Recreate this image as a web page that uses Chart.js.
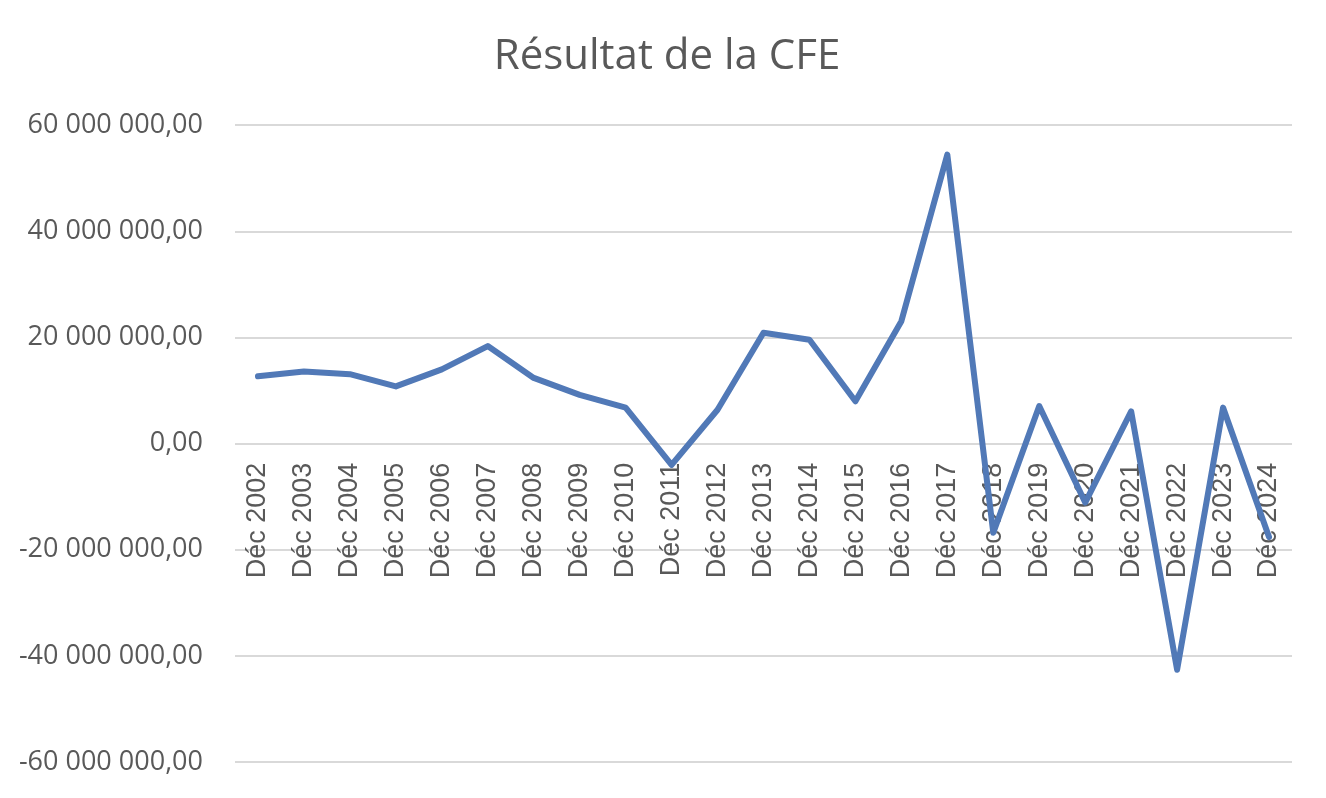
<!DOCTYPE html>
<html>
<head>
<meta charset="utf-8">
<script src="https://cdn.jsdelivr.net/npm/chart.js@4.4.1/dist/chart.umd.min.js"></script>
<style>
  html, body { margin: 0; padding: 0; background: #ffffff; }
  #wrap { width: 1326px; height: 798px; position: relative; }
</style>
</head>
<body>
<div id="wrap"><canvas id="c" width="1326" height="798"></canvas></div>
<script>
const categories = ["Déc 2002","Déc 2003","Déc 2004","Déc 2005","Déc 2006","Déc 2007","Déc 2008","Déc 2009","Déc 2010","Déc 2011","Déc 2012","Déc 2013","Déc 2014","Déc 2015","Déc 2016","Déc 2017","Déc 2018","Déc 2019","Déc 2020","Déc 2021","Déc 2022","Déc 2023","Déc 2024"];
const resultatCFE = [12700000, 13600000, 13100000, 10800000, 14000000, 18400000, 12400000, 9200000, 6800000, -4000000, 6400000, 20900000, 19600000, 8000000, 23100000, 54500000, -16800000, 7100000, -11100000, 6100000, -42600000, 6800000, -17600000];
const yTicks = [-60000000, -40000000, -20000000, 0, 20000000, 40000000, 60000000];
const chartTitle = "Résultat de la CFE";

function frFormat(v) {
  const neg = v < 0;
  const s = Math.abs(Math.round(v)).toString().replace(/\B(?=(\d{3})+(?!\d))/g, " ");
  return (neg ? "-" : "") + s + ",00";
}

new Chart(document.getElementById("c"), {
  type: "line",
  data: {
    labels: categories,
    datasets: [{
      label: chartTitle,
      data: resultatCFE,
      borderColor: "#5179B7",
      backgroundColor: "#5179B7",
      borderWidth: 6,
      borderJoinStyle: "round",
      borderCapStyle: "round",
      pointRadius: 0,
      tension: 0,
      fill: false,
      yAxisID: "y"
    }]
  },
  options: {
    responsive: false,
    animation: false,
    layout: { padding: { left: 8, right: 0, top: 0, bottom: 36 } },
    plugins: {
      legend: { display: false },
      tooltip: { enabled: false },
      title: {
        display: true,
        text: chartTitle,
        color: "#595959",
        font: { family: "'Open Sans'", size: 42, weight: "normal" },
        padding: { top: 32, bottom: 43 }
      }
    },
    scales: {
      y: {
        min: yTicks[0],
        max: yTicks[yTicks.length - 1],
        afterBuildTicks: (s) => { s.ticks = yTicks.map(v => ({ value: v })); },
        afterFit: (s) => { s.width = 227; s.paddingTop = 16; s.paddingBottom = 16; },
        grid: { color: "#d9d9d9", lineWidth: 2, drawTicks: false },
        border: { display: false },
        ticks: {
          color: "#595959",
          padding: 32,
          font: { family: "'Open Sans'", size: 27 },
          callback: (v) => frFormat(v)
        }
      },
      yRight: {
        type: "linear",
        position: "right",
        min: 0,
        max: 1,
        afterFit: (s) => { s.width = 34; s.paddingTop = 0; s.paddingBottom = 0; },
        grid: { display: false, drawTicks: false },
        border: { display: false },
        ticks: { display: false }
      },
      x: {
        type: "category",
        offset: true,
        position: { y: 0 },
        grid: { display: false, drawTicks: false },
        border: { display: false },
        ticks: {
          autoSkip: false,
          minRotation: 90,
          maxRotation: 90,
          padding: 19,
          color: "#595959",
          font: { family: "'Liberation Sans'", size: 27 }
        }
      }
    }
  }
});
</script>
</body>
</html>
